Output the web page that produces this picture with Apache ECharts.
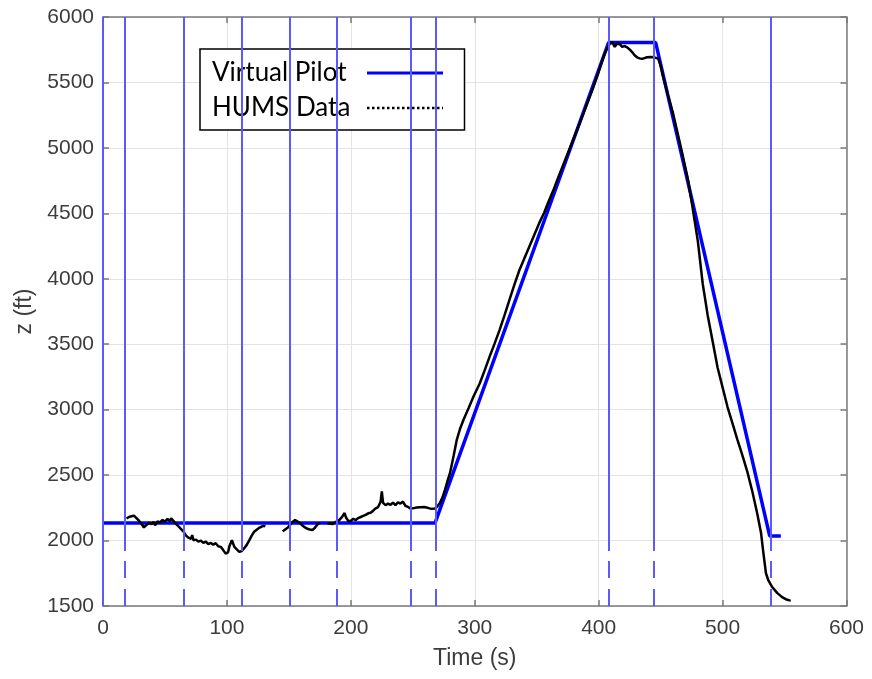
<!DOCTYPE html>
<html>
<head>
<meta charset="utf-8">
<script src="https://cdn.jsdelivr.net/npm/echarts@6/dist/echarts.min.js"></script>
<style>
  html, body { margin: 0; padding: 0; background: #fff; }
  #chart { width: 872px; height: 679px; }
</style>
</head>
<body>
<div id="chart"></div>
<script>
// Flight segment boundaries (s): vertical markers
const eventTimes = [0, 17.8, 65, 112, 150.5, 188.7, 248.5, 268.2, 408.5, 444.6, 538.8];
const markerBreak = 1920;   // markers turn dashed below this altitude

// Virtual Pilot altitude profile [time s, z ft]
const virtualPilot = [[0, 2135], [268, 2135], [408, 5805], [446, 5805], [538, 2035], [547, 2035]];

// HUMS recorded altitude [time s, z ft]; null marks a data dropout
const humsData = [
  [19,2168],[21,2180],[23,2186],[25,2190],[27,2172],[29,2152],[31,2128],[33,2100],[35,2118],[37,2136],
  [39,2126],[41,2142],[42,2116],[44,2146],[46,2138],[48,2157],[50,2145],[52,2165],[54,2148],[55,2170],
  [57,2148],[59,2126],[61,2108],[63,2088],[65,2068],[67,2038],[69,2022],[71,2012],[72,2042],[73,2002],
  [75,2007],[77,1992],[79,1999],[81,1982],[83,1992],[85,1972],[87,1982],[89,1969],[91,1980],[93,1957],
  [95,1952],[97,1927],[99,1900],[101,1912],[102,1957],[104,2003],[106,1952],[108,1932],[110,1913],[112,1920],
  [114,1942],[116,1967],[118,2002],[120,2038],[122,2067],[124,2082],[126,2097],[128,2107],[130,2112],[131,2108],
  null,
  [145,2070],[147,2085],[149,2098],[151,2120],[153,2142],[155,2157],[157,2145],[159,2132],[161,2115],[163,2100],
  [165,2090],[167,2084],[169,2080],[171,2098],[173,2122],[175,2137],
  null,
  [181,2128],[183,2132],[185,2125],[187,2138],[189,2148],[191,2160],[193,2182],[195,2210],[196,2178],[198,2148],
  [200,2152],[202,2166],[204,2157],[206,2172],[208,2180],[210,2188],[212,2196],[214,2208],[216,2212],[218,2228],
  [220,2246],[222,2256],[224,2296],[225,2375],[226,2288],[228,2270],[230,2282],[232,2272],[234,2290],[236,2270],
  [238,2292],[240,2282],[242,2298],[244,2266],[246,2258],[248,2245],[250,2246],[253,2252],[256,2255],[259,2256],
  [262,2250],[265,2242],[268,2245],[270,2262],[272,2290],[274,2330],[276,2390],[278,2455],[280,2515],[283,2650],
  [285.5,2770],[288,2850],[291,2925],[295,3010],[299,3100],[304,3200],[308,3300],[312,3405],[316,3505],[320,3608],
  [324,3720],[328,3838],[332,3955],[336,4065],[340,4155],[344,4245],[348,4335],[352,4425],[356,4505],[359,4577],
  [364,4690],[368,4790],[372,4885],[376,4980],[380,5075],[385,5195],[390,5320],[396,5470],[400,5580],[404,5700],
  [407,5765],[409,5795],[411,5808],[413,5772],[415,5798],[417,5792],[419,5772],[421,5778],[423,5768],[425,5752],
  [427,5732],[429,5708],[431,5692],[433,5684],[435,5680],[437,5686],[439,5692],[442,5694],[445,5692],[448,5682],
  [450,5630],[452,5545],[456,5400],[460,5265],[464,5100],[468,4935],[472,4760],[475,4590],[480,4290],[484,3960],
  [488,3720],[492,3520],[496,3320],[500,3170],[504,3020],[508,2895],[512,2770],[516,2650],[520,2525],[524,2375],
  [528,2205],[531,2060],[533,1900],[535,1750],[537,1695],[540,1645],[544,1600],[548,1568],[551,1552],[554,1543],
  [555,1541]
];

const xTicks = { min: 0, max: 600, interval: 100 };
const yTicks = { min: 1500, max: 6000, interval: 500 };

const axisGray = '#7a7a7a';
const tickFont = { fontFamily: 'Liberation Sans', fontSize: 21, color: '#3c3c3c' };
const markerColor = '#5a5aff';

// Each marker: solid from the top down to the break, dashed below it
const markerLines = [];
eventTimes.forEach(function (t, i) {
  if (i === 0) {
    markerLines.push([{ coord: [t, yTicks.max], lineStyle: { type: 'solid' } }, { coord: [t, yTicks.min] }]);
  } else {
    markerLines.push([{ coord: [t, yTicks.max], lineStyle: { type: 'solid' } }, { coord: [t, markerBreak] }]);
    markerLines.push([{ coord: [t, yTicks.min], lineStyle: { type: [17, 11] } }, { coord: [t, markerBreak] }]);
  }
});

const chart = echarts.init(document.getElementById('chart'), null, { renderer: 'canvas' });

const baseX = {
  type: 'value', min: xTicks.min, max: xTicks.max, interval: xTicks.interval,
  axisLine: { show: true, onZero: false, lineStyle: { color: axisGray, width: 1.5 } },
  axisTick: { show: true, inside: true, length: 6, lineStyle: { color: axisGray, width: 1.5 } }
};
const baseY = {
  type: 'value', min: yTicks.min, max: yTicks.max, interval: yTicks.interval,
  axisLine: { show: true, onZero: false, lineStyle: { color: axisGray, width: 1.5 } },
  axisTick: { show: true, inside: true, length: 6, lineStyle: { color: axisGray, width: 1.5 } }
};

const plain = function (v) { return String(v); };
const hiddenSymbol = { color: 'rgba(0,0,0,0)', borderWidth: 0, opacity: 0 };

chart.setOption({
  animation: false,
  backgroundColor: '#fff',
  grid: { left: 103, right: 25.5, top: 17, bottom: 73, containLabel: false },
  xAxis: [
    Object.assign({}, baseX, {
      position: 'bottom',
      name: 'Time (s)', nameLocation: 'middle', nameGap: 41,
      nameTextStyle: { fontFamily: 'Liberation Sans', fontSize: 23, color: '#3c3c3c' },
      axisLabel: Object.assign({ margin: 12, formatter: plain }, tickFont),
      splitLine: { show: true, lineStyle: { color: '#e3e3e3', width: 1 } }
    }),
    Object.assign({}, baseX, {
      position: 'top', axisLabel: { show: false }, splitLine: { show: false }
    })
  ],
  yAxis: [
    Object.assign({}, baseY, {
      position: 'left',
      name: 'z (ft)', nameLocation: 'middle', nameGap: 50,
      nameTextStyle: { fontFamily: 'Liberation Sans', fontSize: 23, color: '#3c3c3c' },
      axisLabel: Object.assign({ margin: 9, formatter: plain }, tickFont),
      splitLine: { show: true, lineStyle: { color: '#e3e3e3', width: 1 } }
    }),
    Object.assign({}, baseY, {
      position: 'right', axisLabel: { show: false }, splitLine: { show: false }
    })
  ],
  legend: {
    orient: 'vertical', left: 200, top: 49, align: 'right',
    itemWidth: 76, itemHeight: 14, itemGap: 7,
    padding: [10, 20, 8, 12],
    backgroundColor: '#fff', borderColor: '#000', borderWidth: 1.5, borderRadius: 0,
    formatter: '{n|{name}}',
    textStyle: {
      fontFamily: 'Lato', fontSize: 26, color: '#000', lineHeight: 28,
      rich: { n: { fontFamily: 'Lato', fontSize: 26, color: '#000', width: 150, align: 'left', lineHeight: 28 } }
    },
    data: [
      { name: 'Virtual Pilot', itemStyle: hiddenSymbol, lineStyle: { color: '#0000ff', width: 3, type: 'solid' } },
      { name: 'HUMS Data', itemStyle: hiddenSymbol, lineStyle: { color: '#000', width: 2.5, type: [2.5, 2.5] } }
    ]
  },
  series: [
    {
      name: 'markers', type: 'line', data: [], silent: true,
      markLine: {
        silent: true, symbol: ['none', 'none'], animation: false,
        label: { show: false },
        lineStyle: { color: markerColor, width: 2 },
        emphasis: { disabled: true },
        data: markerLines
      }
    },
    {
      name: 'Virtual Pilot', type: 'line', data: virtualPilot,
      symbol: 'none', lineStyle: { color: '#0000ff', width: 3.5 }, itemStyle: { color: '#0000ff' },
      z: 3
    },
    {
      name: 'HUMS Data', type: 'line', data: humsData, connectNulls: false,
      symbol: 'none', lineStyle: { color: '#000', width: 2.5 }, itemStyle: { color: '#000' },
      z: 4
    }
  ]
});
</script>
</body>
</html>
